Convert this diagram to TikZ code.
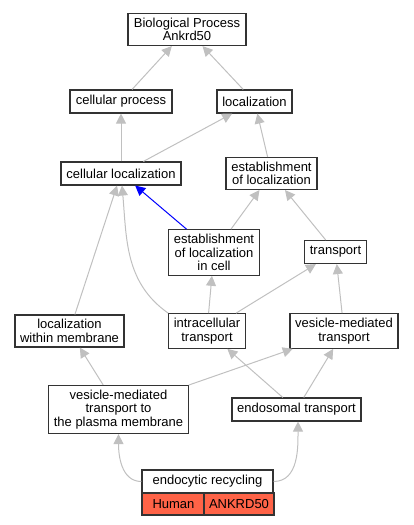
\documentclass[tikz,border=0pt]{standalone}
\usepackage{fontspec}
\setmainfont{Liberation Sans}
\usetikzlibrary{arrows.meta}

\definecolor{edgegray}{RGB}{192,192,192}
\definecolor{boxline}{RGB}{51,51,51}
\definecolor{hit}{RGB}{255,99,71}

\begin{document}
\begin{tikzpicture}[x=1pt, y=-1pt,
    term/.style={draw=boxline, line width=1.1pt, fill=white, align=center,
      font=\fontsize{13}{13.5}\selectfont, inner xsep=5pt, inner ysep=4.5pt,
      minimum height=23pt},
    edge/.style={draw=edgegray, line width=1pt,
      -{Triangle[length=10pt, width=10pt, fill=edgegray]}},
    isa/.style={edge, draw=blue, -{Triangle[length=10pt, width=10pt, fill=blue]}}]
    \useasboundingbox (0, 0) rectangle (413, 525);
    \begin{scope}
      \node[term, minimum width=118pt] (bp) at (187, 29.5) {Biological Process\\Ankrd50};
      \node[term, minimum width=102pt] (cp) at (121, 101.5) {cellular process};
      \node[term, minimum width=75pt] (loc) at (254.5, 101.5) {localization};
      \node[term, minimum width=120pt] (cl) at (121, 173.5) {cellular localization};
      \node[term, minimum width=91pt] (eol) at (271.5, 173.5) {establishment\\of localization};
      \node[term, minimum width=90pt] (eolc) at (214, 252.5) {establishment\\of localization\\in cell};
      \node[term, minimum width=61pt] (tr) at (335.5, 252) {transport};
      \node[term, minimum width=109pt] (lwm) at (69.5, 331) {localization\\within membrane};
      \node[term, minimum width=76pt] (it) at (207, 331) {intracellular\\transport};
      \node[term, minimum width=108pt] (vmt) at (344, 331) {vesicle-mediated\\transport};
      \node[term, minimum width=139pt] (vmtpm) at (118.5, 409.5) {vesicle-mediated\\transport to\\the plasma membrane};
      \node[term, minimum width=129pt] (et) at (296.5, 409.5) {endosomal transport};
      \node[term, minimum width=131pt] (er) at (207.5, 481.5) {endocytic recycling};
      \node[term, fill=hit, minimum width=63pt, minimum height=22pt] (hu) at (173.5, 504) {Human};
      \node[term, fill=hit, minimum width=68pt, minimum height=22pt] (an) at (239, 504) {ANKRD50};
    \end{scope}
    \draw[edge] (cp) -- (bp);
    \draw[edge] (loc) -- (bp);
    \draw[edge] (cl) -- (cp);
    \draw[edge] (cl) -- (loc);
    \draw[edge] (eol) -- (loc);
    \draw[isa] (eolc) -- (cl);
    \draw[edge] (eolc) -- (eol);
    \draw[edge] (tr) -- (eol);
    \draw[edge] (lwm) -- (cl);
    \draw[edge] (it.north west) to[out=145, in=-85] ([xshift=1pt]cl.south);
    \draw[edge] (it) -- (eolc);
    \draw[edge] (it) -- (tr);
    \draw[edge] (vmt) -- (tr);
    \draw[edge] (vmtpm) -- (lwm);
    \draw[edge] (vmtpm) -- (vmt);
    \draw[edge] (et) -- (it);
    \draw[edge] (et) -- (vmt);
    \draw[edge] (er.west) to[out=180, in=-90] (vmtpm.south);
    \draw[edge] (er.east) to[out=0, in=-90] ([xshift=1.5pt]et.south);
  \end{tikzpicture}
\end{document}
